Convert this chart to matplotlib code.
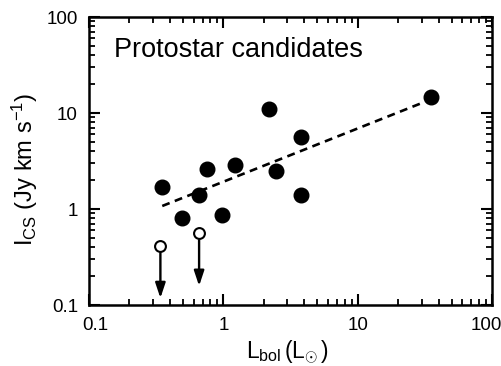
import matplotlib
matplotlib.use("Agg")
import matplotlib.pyplot as plt
from matplotlib.transforms import ScaledTranslation
from matplotlib.ticker import LogLocator, FixedLocator, FixedFormatter, NullFormatter

plt.rcParams['font.family'] = ['Liberation Sans', 'DejaVu Sans']
plt.rcParams['mathtext.fontset'] = 'custom'
plt.rcParams['mathtext.rm'] = 'Liberation Sans'
plt.rcParams['mathtext.it'] = 'Liberation Sans:italic'

# Detections (filled circles)
lbol_det = [0.35, 0.49, 0.66, 0.76, 0.97, 1.23, 2.18, 2.48, 3.79, 3.81, 35.2]
ics_det = [1.68, 0.80, 1.40, 2.59, 0.86, 2.85, 11.1, 2.50, 5.67, 1.39, 14.7]

# Upper limits (open circles with arrows)
lbol_lim = [0.34, 0.66]
ics_lim = [0.41, 0.56]
ics_lim_tip = [0.118, 0.158]

# Fitted correlation (dashed line endpoints)
fit_x = [0.351, 30.0]
fit_y = [1.075, 12.7]

x_ticks = [0.1, 1, 10, 100]
x_ticklabels = ['0.1', '1', '10', '100']
y_ticks = [0.1, 1, 10, 100]
y_ticklabels = ['0.1', '1', '10', '100']

fig = plt.figure(figsize=(5.02, 3.66), dpi=100)
ax = fig.add_axes([89/502, 61/366, 403/502, 288/366])

ax.set_xscale('log')
ax.set_yscale('log')
ax.set_xlim(0.1, 100)
ax.set_ylim(0.1, 100)

ax.plot(fit_x, fit_y, color='black', lw=1.9, dashes=(3.0, 2.1))

ax.plot(lbol_det, ics_det, 'o', color='black', markersize=10.5, zorder=3)

for x, y, tip in zip(lbol_lim, ics_lim, ics_lim_tip):
    ax.annotate('', xy=(x, tip), xytext=(x, y),
                arrowprops=dict(arrowstyle='-|>,head_length=0.9,head_width=0.3',
                                color='black', lw=1.7, shrinkA=5, shrinkB=0),
                zorder=2)
ax.plot(lbol_lim, ics_lim, 'o', markerfacecolor='white', markeredgecolor='black',
        markeredgewidth=1.5, markersize=7.8, zorder=4)

ax.xaxis.set_major_locator(FixedLocator(x_ticks))
ax.xaxis.set_major_formatter(FixedFormatter(x_ticklabels))
ax.yaxis.set_major_locator(FixedLocator(y_ticks))
ax.yaxis.set_major_formatter(FixedFormatter(y_ticklabels))
ax.xaxis.set_minor_locator(LogLocator(base=10, subs=range(2, 10)))
ax.yaxis.set_minor_locator(LogLocator(base=10, subs=range(2, 10)))
ax.xaxis.set_minor_formatter(NullFormatter())
ax.yaxis.set_minor_formatter(NullFormatter())

ax.tick_params(which='both', direction='in', top=True, right=True, color='black')
ax.tick_params(which='major', length=8, width=1.5, labelsize=13.5)
ax.tick_params(which='minor', length=4.5, width=1.3)
ax.tick_params(axis='x', which='major', pad=9)
ax.tick_params(axis='y', which='major', pad=8)
for s in ax.spines.values():
    s.set_linewidth(1.8)

fig.canvas.draw()
xlabels = ax.get_xticklabels()
xlabels[0].set_transform(xlabels[0].get_transform() + ScaledTranslation(6/100, 0, fig.dpi_scale_trans))
xlabels[-1].set_transform(xlabels[-1].get_transform() + ScaledTranslation(-6/100, 0, fig.dpi_scale_trans))

ax.text(0.062, 0.861, 'Protostar candidates', transform=ax.transAxes,
        fontsize=19.5, ha='left', va='baseline')

fig.text(25/502, 1 - 169/366, r'$\mathrm{I_{CS}}$ (Jy km s$^{-1}$)',
         rotation=90, ha='center', va='center', fontsize=17)
fig.text(288/502, 1 - 358/366, r'$\mathrm{L_{bol}\,(L_{\odot}\,)}$',
         ha='center', va='baseline', fontsize=16.5)

fig.savefig('out.png', dpi=100)
